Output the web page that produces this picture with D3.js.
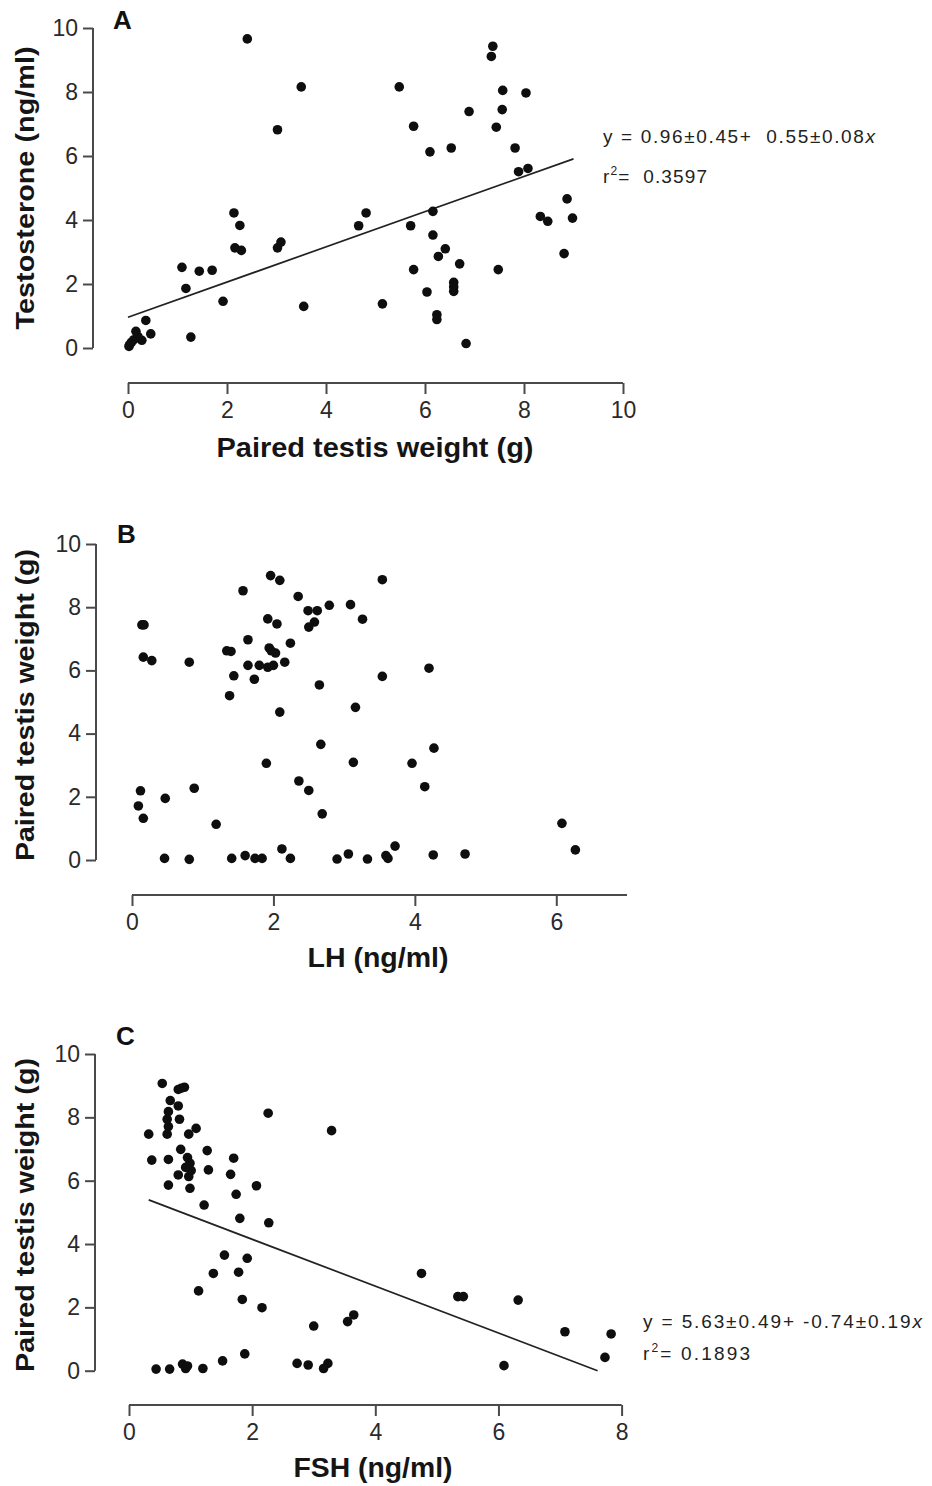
<!DOCTYPE html>
<html>
<head>
<meta charset="utf-8">
<script src="https://cdn.jsdelivr.net/npm/d3@7"></script>
<style>
  html, body { margin: 0; padding: 0; background: #fff; }
  svg { display: block; font-family: "Liberation Sans", Arial, Helvetica, sans-serif; }
</style>
</head>
<body>
<svg id="fig" width="932" height="1486"></svg>
<script>
// Panel A: paired testis weight (g) vs testosterone (ng/ml)
const aWeight = [2.41, 7.37, 7.34, 3.50, 5.48, 7.57, 8.04, 6.89, 7.56, 3.02, 5.77, 7.44, 6.53, 6.10, 7.82,
  7.89, 8.08, 8.87, 8.33, 8.48, 8.98, 8.81, 2.14, 2.26, 2.16, 2.29, 3.02, 3.09, 4.66, 4.81,
  5.71, 6.16, 6.16, 6.41, 6.27, 6.70, 5.77, 7.48, 6.58, 6.58, 6.58, 6.04, 6.24, 6.24, 6.83,
  5.14, 3.55, 1.92, 1.09, 1.17, 1.44, 1.70, 1.27, 0.36, 0.46, 0.16, 0.28, 0.07, 0.02, 0.12,
  0.03, 0.20];
const aTestosterone = [9.66, 9.43, 9.11, 8.16, 8.16, 8.05, 7.97, 7.39, 7.45, 6.82, 6.93, 6.90, 6.25, 6.13, 6.25,
  5.51, 5.61, 4.66, 4.11, 3.96, 4.06, 2.95, 4.22, 3.83, 3.13, 3.05, 3.13, 3.31, 3.82, 4.22,
  3.82, 4.27, 3.53, 3.10, 2.86, 2.63, 2.45, 2.45, 2.05, 1.77, 1.91, 1.75, 1.04, 0.89, 0.14,
  1.38, 1.30, 1.46, 2.52, 1.86, 2.40, 2.43, 0.34, 0.86, 0.44, 0.52, 0.24, 0.18, 0.05, 0.26,
  0.10, 0.36];
const aFit = { intercept: 0.96, slope: 0.55, from: 0, to: 9 };
const aEquation = ["y = 0.96±0.45+  0.55±0.08", "=  0.3597"];

// Panel B: LH (ng/ml) vs paired testis weight (g)
const bLH = [1.96, 2.09, 3.54, 1.57, 2.35, 2.79, 3.09, 2.49, 2.62, 1.92, 3.26, 2.05, 2.58, 2.50, 0.14,
  0.17, 1.64, 2.24, 1.34, 1.40, 1.94, 1.97, 2.03, 0.16, 0.28, 0.81, 2.16, 1.64, 1.80, 1.92,
  2.00, 4.20, 1.44, 1.73, 3.54, 2.65, 1.38, 3.16, 2.09, 2.67, 4.27, 1.90, 3.13, 3.96, 4.14,
  2.36, 2.50, 0.12, 0.88, 0.47, 0.09, 0.16, 2.69, 1.19, 6.08, 6.27, 0.46, 0.81, 1.41, 1.60,
  1.74, 1.84, 2.12, 2.24, 2.90, 3.06, 3.33, 3.59, 3.62, 3.72, 4.26, 4.71];
const bWeight = [9.00, 8.85, 8.87, 8.52, 8.34, 8.06, 8.08, 7.89, 7.89, 7.63, 7.62, 7.47, 7.53, 7.37, 7.44,
  7.44, 6.97, 6.86, 6.62, 6.60, 6.71, 6.62, 6.55, 6.42, 6.31, 6.26, 6.26, 6.16, 6.16, 6.10,
  6.16, 6.07, 5.83, 5.72, 5.81, 5.54, 5.20, 4.83, 4.68, 3.66, 3.54, 3.06, 3.09, 3.06, 2.32,
  2.50, 2.20, 2.19, 2.27, 1.95, 1.71, 1.32, 1.46, 1.13, 1.16, 0.32, 0.05, 0.02, 0.05, 0.14,
  0.05, 0.05, 0.35, 0.05, 0.03, 0.19, 0.03, 0.14, 0.05, 0.44, 0.16, 0.19];

// Panel C: FSH (ng/ml) vs paired testis weight (g)
const cFSH = [0.54, 0.85, 0.80, 0.90, 0.67, 0.80, 2.26, 0.64, 0.62, 0.82, 1.09, 0.64, 3.29, 0.32, 0.62,
  0.97, 0.84, 1.27, 0.37, 0.64, 1.70, 0.95, 0.99, 0.92, 1.29, 1.01, 0.80, 1.65, 0.97, 0.64,
  2.07, 0.99, 1.74, 1.22, 1.80, 2.27, 1.55, 1.92, 1.37, 1.78, 4.75, 1.13, 1.84, 5.34, 5.43,
  6.32, 2.16, 3.65, 3.55, 3.00, 7.08, 7.83, 7.73, 6.09, 1.88, 1.52, 2.73, 2.91, 3.23, 3.16,
  0.44, 0.66, 0.87, 0.92, 0.95, 1.20];
const cWeight = [9.07, 8.92, 8.88, 8.95, 8.53, 8.36, 8.13, 8.18, 7.94, 7.94, 7.65, 7.71, 7.58, 7.47, 7.47,
  7.47, 6.99, 6.95, 6.65, 6.67, 6.71, 6.73, 6.55, 6.42, 6.34, 6.32, 6.18, 6.20, 6.13, 5.86,
  5.84, 5.76, 5.57, 5.23, 4.81, 4.67, 3.65, 3.55, 3.07, 3.11, 3.07, 2.52, 2.25, 2.34, 2.34,
  2.23, 1.99, 1.76, 1.55, 1.41, 1.23, 1.16, 0.42, 0.16, 0.53, 0.31, 0.23, 0.18, 0.23, 0.07,
  0.05, 0.05, 0.21, 0.07, 0.15, 0.07];
const cFit = { intercept: 5.63, slope: -0.74, from: 0.32, to: 7.61 };
const cEquation = ["y = 5.63±0.49+ -0.74±0.19", "= 0.1893"];

const yTicks = [0, 2, 4, 6, 8, 10];

const svg = d3.select("#fig");
const AXIS = "#4a4a4a";

function panel(cfg) {
  const g = svg.append("g");
  const x = d3.scaleLinear().domain(cfg.xDomain).range(cfg.xRange);
  const y = d3.scaleLinear().domain([0, 10]).range(cfg.yRange);

  // y axis, offset to the left of the plotting area
  const ya = g.append("g")
    .attr("transform", `translate(${cfg.yAxisX},0)`)
    .call(d3.axisLeft(y).tickValues(yTicks).tickSize(10).tickPadding(5).tickFormat(d3.format("d")));
  // x axis, offset below the plotting area
  const xa = g.append("g")
    .attr("transform", `translate(0,${cfg.xAxisY})`)
    .call(d3.axisBottom(x).tickValues(cfg.xTicks).tickSize(11).tickPadding(8).tickFormat(d3.format("d")));
  [ya, xa].forEach(a => {
    a.select(".domain").attr("stroke", AXIS).attr("stroke-width", 2);
    a.selectAll(".tick line").attr("stroke", AXIS).attr("stroke-width", 2);
    a.selectAll(".tick text").attr("fill", "#2a2a2a")
      .style("font-size", "23px").style("font-family", "'Liberation Sans', Arial, sans-serif");
  });
  // plain axis lines without the outer end ticks
  xa.select(".domain").attr("d", `M${cfg.xRange[0]},0H${cfg.xRange[1]}`);
  ya.select(".domain").attr("d", `M0,${cfg.yRange[0]}V${cfg.yRange[1]}`);

  if (cfg.fit) {
    const f = cfg.fit;
    g.append("line")
      .attr("x1", x(f.from)).attr("y1", y(f.intercept + f.slope * f.from))
      .attr("x2", x(f.to)).attr("y2", y(f.intercept + f.slope * f.to))
      .attr("stroke", "#222").attr("stroke-width", 1.7);
  }

  g.append("g").selectAll("circle")
    .data(d3.zip(cfg.xs, cfg.ys))
    .join("circle")
    .attr("cx", d => x(d[0]))
    .attr("cy", d => y(d[1]))
    .attr("r", 4.8)
    .attr("fill", "#0e0e0e");

  // panel letter
  g.append("text").attr("x", cfg.letterPos[0]).attr("y", cfg.letterPos[1])
    .attr("font-size", 26).attr("font-weight", "bold").attr("fill", "#111")
    .text(cfg.letter);

  // axis titles
  g.append("text")
    .attr("x", cfg.xTitlePos[0]).attr("y", cfg.xTitlePos[1])
    .attr("text-anchor", "middle").attr("font-size", 27).attr("font-weight", "bold").attr("fill", "#151515")
    .attr("textLength", cfg.xTitleLen).attr("lengthAdjust", "spacingAndGlyphs")
    .text(cfg.xTitle);
  g.append("text")
    .attr("transform", `translate(${cfg.yTitlePos[0]},${cfg.yTitlePos[1]}) rotate(-90)`)
    .attr("text-anchor", "middle").attr("font-size", 26).attr("font-weight", "bold").attr("fill", "#151515")
    .attr("textLength", cfg.yTitleLen).attr("lengthAdjust", "spacingAndGlyphs")
    .text(cfg.yTitle);

  if (cfg.equation) {
    const [ex, ey] = cfg.eqPos;
    const t1 = g.append("text").attr("x", ex).attr("y", ey)
      .attr("font-size", 19).attr("fill", "#222").style("white-space", "pre")
      .attr("textLength", cfg.eqLen[0]).attr("lengthAdjust", "spacing");
    t1.append("tspan").text(cfg.equation[0]);
    t1.append("tspan").attr("font-style", "italic").text("x");
    const t2 = g.append("text").attr("x", ex).attr("y", ey + cfg.eqGap)
      .attr("font-size", 19).attr("fill", "#222").style("white-space", "pre")
      .attr("textLength", cfg.eqLen[1]).attr("lengthAdjust", "spacing");
    t2.append("tspan").text("r");
    t2.append("tspan").attr("font-size", 12).attr("dy", -8).text("2");
    t2.append("tspan").attr("dy", 8).text(cfg.equation[1]);
  }
}

panel({
  xs: aWeight, ys: aTestosterone,
  xDomain: [0, 10], xRange: [128, 623], yRange: [348, 28],
  yAxisX: 93, xAxisY: 383, xTicks: [0, 2, 4, 6, 8, 10],
  letter: "A", letterPos: [113, 29],
  xTitle: "Paired testis weight (g)", xTitlePos: [375, 457], xTitleLen: 317,
  yTitle: "Testosterone (ng/ml)", yTitlePos: [34, 188], yTitleLen: 283,
  fit: aFit, equation: aEquation, eqPos: [603, 143], eqGap: 40, eqLen: [272, 104]
});

panel({
  xs: bLH, ys: bWeight,
  xDomain: [0, 7], xRange: [132, 627], yRange: [860, 544],
  yAxisX: 96, xAxisY: 895, xTicks: [0, 2, 4, 6],
  letter: "B", letterPos: [117, 543],
  xTitle: "LH (ng/ml)", xTitlePos: [378, 967], xTitleLen: 141,
  yTitle: "Paired testis weight (g)", yTitlePos: [34, 705], yTitleLen: 312
});

panel({
  xs: cFSH, ys: cWeight,
  xDomain: [0, 8], xRange: [129, 621.6], yRange: [1370.7, 1054],
  yAxisX: 95, xAxisY: 1405, xTicks: [0, 2, 4, 6, 8],
  letter: "C", letterPos: [116, 1045],
  xTitle: "FSH (ng/ml)", xTitlePos: [373, 1477], xTitleLen: 159,
  yTitle: "Paired testis weight (g)", yTitlePos: [34, 1215], yTitleLen: 314,
  fit: cFit, equation: cEquation, eqPos: [643, 1328], eqGap: 32, eqLen: [279, 107]
});
</script>
</body>
</html>
